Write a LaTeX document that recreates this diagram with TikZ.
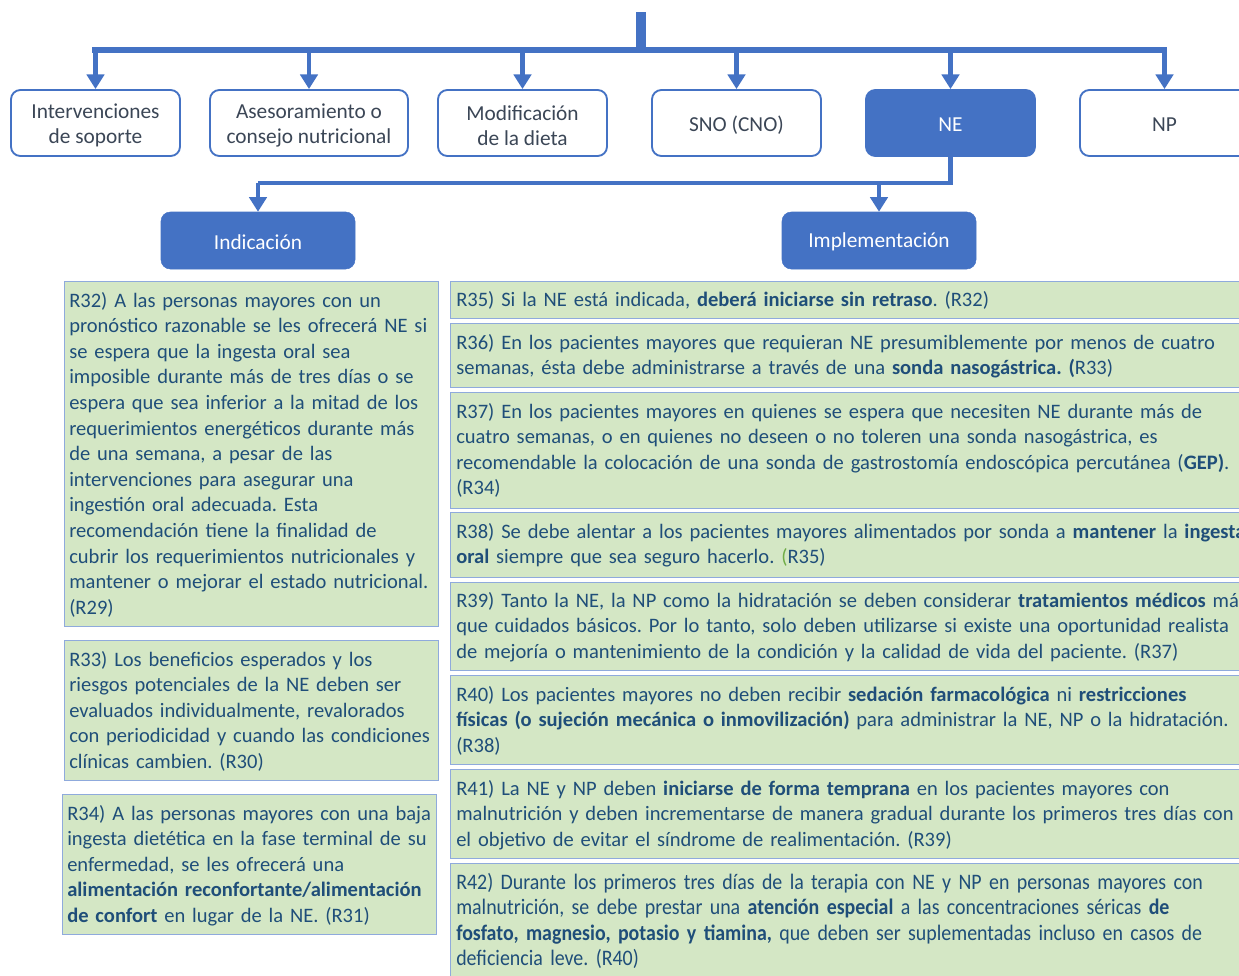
\documentclass[tikz,border=0pt]{standalone}
\usepackage{fontspec}
\setmainfont{Carlito}
\newfontfamily\narrowfont[FakeStretch=0.9]{Carlito}
\usetikzlibrary{arrows.meta}
\frenchspacing

\definecolor{mainblue}{HTML}{4472C4}
\definecolor{recfill}{HTML}{D4E7C5}
\definecolor{recline}{HTML}{8FAADC}
\definecolor{rectext}{HTML}{1F4E79}
\definecolor{labeltext}{HTML}{3B4656}
\definecolor{notegreen}{HTML}{70AD47}

\tikzset{
  bus/.style={draw=mainblue, line width=4.2pt},
  link/.style={draw=mainblue, line width=3.6pt,
    -{Triangle[length=11pt,width=13pt]}},
  optbox/.style={draw=mainblue, line width=1.4pt, fill=white, rounded corners=7pt,
    minimum width=126.75pt, minimum height=49.5pt},
  selbox/.style={optbox, fill=mainblue},
  optlabel/.style={align=center, inner sep=0pt, text=labeltext,
    font=\fontsize{16}{19}\selectfont},
  sellabel/.style={optlabel, text=white},
  headbox/.style={draw=mainblue, fill=mainblue, rounded corners=7pt,
    minimum width=145.5pt, minimum height=42.75pt},
  recbox/.style={draw=recline, line width=1.1pt, fill=recfill,
    anchor=north west, inner sep=0pt},
  rectxt/.style={anchor=base west, inner sep=0pt, align=left, text width=620pt,
    text=rectext, font=\fontsize{15.4}{19.2}\selectfont},
}

\begin{document}
\begin{tikzpicture}[x=0.75pt, y=-0.75pt]
\useasboundingbox (0,0) rectangle (1239,975);

% ---------- first level: types of nutritional intervention ----------
\node[optbox] (sop) at (95.5,123) {};
\node[optbox, minimum width=148.5pt] (ase) at (309,123) {};
\node[optbox] (mod) at (522.5,123) {};
\node[optbox] (sno) at (736.5,123) {};
\node[selbox] (ne) at (950.5,123) {};
\node[optbox] (np) at (1164.5,123) {};

\node[optlabel] (sopl) at ([yshift=-2pt]sop.center) {Intervenciones\\de soporte};
\node[optlabel] (asel) at ([yshift=-2pt]ase.center) {Asesoramiento o\\consejo nutricional};
\node[optlabel] (modl) at ([yshift=-2pt]mod.center) {Modificación\\de la dieta};
\node[optlabel] (snol) at ([yshift=-1.5pt]sno.center) {SNO (CNO)};
\node[sellabel] (nel) at ([yshift=-1pt]ne.center) {NE};
\node[optlabel] (npl) at ([yshift=-1pt]np.center) {NP};

\coordinate (root) at (640.5,12);
\coordinate (busc) at (640.5,50);
\coordinate (busl) at (95,50);
\coordinate (busr) at (1164,50);
\draw[draw=mainblue, line width=7.5pt] (root) -- (busc);
\draw[bus, line cap=rect] (busl) -- (busr);
\foreach \n in {sop,ase,mod,sno,ne,np}
  \draw[link] (\n.north |- busc) -- (\n.north);

% ---------- second level: NE ----------
\node[headbox] (ind) at (258,240.5) {};
\node[headbox] (imp) at (879,240.5) {};
\node[sellabel] (indl) at ([yshift=-1.2pt]ind.center) {Indicación};
\node[sellabel] (impl) at ([yshift=-1.2pt]imp.center) {Implementación};

\coordinate (nebus) at (950.5,183);
\draw[draw=mainblue, line width=3.6pt] (ne.south) -- (nebus) -- (ind.north |- nebus);
\draw[link] (ind.north |- nebus) -- (ind.north);
\draw[link] (imp.north |- nebus) -- (imp.north);

% ---------- indication recommendations ----------
\node[recbox, minimum width=280.5pt, minimum height=258.75pt] (r32) at (64,281) {};
\node[rectxt] (t32) at (69,307) {R32) A las personas mayores con un\\
pronóstico razonable se les ofrecerá NE si\\
se espera que la ingesta oral sea\\
imposible durante más de tres días o se\\
espera que sea inferior a la mitad de los\\
requerimientos energéticos durante más\\
de una semana, a pesar de las\\
intervenciones para asegurar una\\
ingestión oral adecuada. Esta\\
recomendación tiene la finalidad de\\
cubrir los requerimientos nutricionales y\\
mantener o mejorar el estado nutricional.\\
(R29)};

\node[recbox, minimum width=280.5pt, minimum height=105pt] (r33) at (64,640) {};
\node[rectxt] (t33) at (69,666) {R33) Los beneficios esperados y los\\
riesgos potenciales de la NE deben ser\\
evaluados individualmente, revalorados\\
con periodicidad y cuando las condiciones\\
clínicas cambien. (R30)};

\node[recbox, minimum width=280.5pt, minimum height=105pt] (r34) at (62,794) {};
\node[rectxt] (t34) at (67,820) {R34) A las personas mayores con una baja\\
ingesta dietética en la fase terminal de su\\
enfermedad, se les ofrecerá una\\
\textbf{alimentación reconfortante/alimentación}\\
\textbf{de confort} en lugar de la NE. (R31)};

% ---------- implementation recommendations ----------
\node[recbox, minimum width=607.5pt, minimum height=27.75pt] (r35) at (450,281) {};
\node[rectxt] (t35) at (456,306) {R35) Si la NE está indicada, \textbf{deberá iniciarse sin retraso}. (R32)};

\node[recbox, minimum width=607.5pt, minimum height=48pt] (r36) at (450,323) {};
\node[rectxt] (t36) at (456,349) {R36) En los pacientes mayores que requieran NE presumiblemente por menos de cuatro\\
semanas, ésta debe administrarse a través de una \textbf{sonda nasogástrica. (}R33)};

\node[recbox, minimum width=607.5pt, minimum height=87pt] (r37) at (450,392) {};
\node[rectxt] (t37) at (456,418) {R37) En los pacientes mayores en quienes se espera que necesiten NE durante más de\\
cuatro semanas, o en quienes no deseen o no toleren una sonda nasogástrica, es\\
recomendable la colocación de una sonda de gastrostomía endoscópica percutánea (\textbf{GEP)}.\\
(R34)};

\node[recbox, minimum width=607.5pt, minimum height=48.75pt] (r38) at (450,512) {};
\node[rectxt] (t38) at (456,538) {R38) Se debe alentar a los pacientes mayores alimentados por sonda a \textbf{mantener} la \textbf{ingesta}\\
\textbf{oral} siempre que sea seguro hacerlo. {\color{notegreen}(}R35)};

\node[recbox, minimum width=607.5pt, minimum height=66pt] (r39) at (450,582) {};
\node[rectxt] (t39) at (456,607) {R39) Tanto la NE, la NP como la hidratación se deben considerar \textbf{tratamientos médicos} más\\
que cuidados básicos. Por lo tanto, solo deben utilizarse si existe una oportunidad realista\\
de mejoría o mantenimiento de la condición y la calidad de vida del paciente. (R37)};

\node[recbox, minimum width=607.5pt, minimum height=66.75pt] (r40) at (450,675) {};
\node[rectxt] (t40) at (456,701) {R40) Los pacientes mayores no deben recibir \textbf{sedación farmacológica} ni \textbf{restricciones}\\
\textbf{físicas (o sujeción mecánica o inmovilización)} para administrar la NE, NP o la hidratación.\\
(R38)};

\node[recbox, minimum width=607.5pt, minimum height=66.75pt] (r41) at (450,769) {};
\node[rectxt] (t41) at (456,795) {R41) La NE y NP deben \textbf{iniciarse de forma temprana} en los pacientes mayores con\\
malnutrición y deben incrementarse de manera gradual durante los primeros tres días con\\
el objetivo de evitar el síndrome de realimentación. (R39)};

\node[recbox, minimum width=607.5pt, minimum height=96pt] (r42) at (450,863) {};
\node[rectxt, font=\narrowfont\fontsize{16.6}{19.2}\selectfont] (t42) at (456,889) {R42) Durante los primeros tres días de la terapia con NE y NP en personas mayores con\\
malnutrición, se debe prestar una \textbf{atención especial} a las concentraciones séricas \textbf{de}\\
\textbf{fosfato, magnesio, potasio y tiamina,} que deben ser suplementadas incluso en casos de\\
deficiencia leve. (R40)};
\end{tikzpicture}
\end{document}
